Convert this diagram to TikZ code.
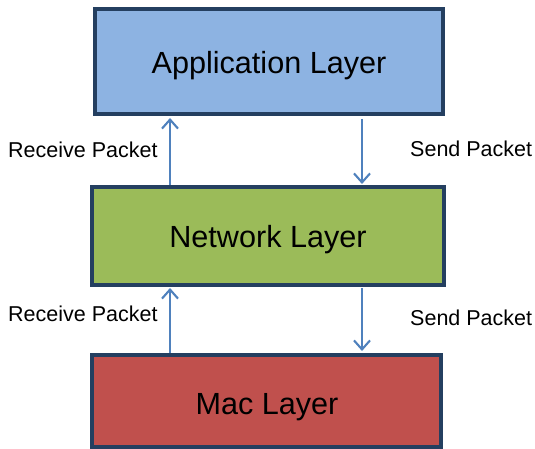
\documentclass[tikz,border=0pt]{standalone}
\usepackage{fontspec}
\setmainfont{Liberation Sans}
\usetikzlibrary{arrows.meta}
\definecolor{navy}{HTML}{243F60}
\definecolor{appblue}{HTML}{8DB3E2}
\definecolor{netgreen}{HTML}{9BBB59}
\definecolor{macred}{HTML}{C0504D}
\definecolor{arrowblue}{HTML}{4F81BD}
\begin{document}
\begin{tikzpicture}[x=1pt,y=-1pt,
  layer/.style={draw=navy,line width=4pt,inner sep=0pt},
  flow/.style={draw=arrowblue,line width=2.1pt,-{Straight Barb[length=9pt,width=16pt,line width=2.1pt]}},
  lbl/.style={font=\fontsize{21.5}{24}\selectfont,inner sep=0pt,anchor=west},
  title/.style={font=\fontsize{30.6}{34}\selectfont,inner sep=0pt}]
\useasboundingbox (0,0) rectangle (535,449);
\path[layer,fill=appblue] (95,9) rectangle (443,114);
\path[layer,fill=netgreen] (92,187) rectangle (444,285);
\path[layer,fill=macred] (92,355) rectangle (441,447);
\node[title] (app) at (269,66) {Application Layer};
\node[title] (net) at (268,240) {Network Layer};
\node[title] (mac) at (267,407) {Mac Layer};
\coordinate (a1s) at (170,185);
\coordinate (a1e) at (170,118);
\coordinate (a2s) at (362,119);
\coordinate (a2e) at (362,184);
\coordinate (a3s) at (170,353);
\coordinate (a3e) at (170,288);
\coordinate (a4s) at (362,288);
\coordinate (a4e) at (362,351);
\draw[flow] (a1s) -- (a1e);
\draw[flow] (a2s) -- (a2e);
\draw[flow] (a3s) -- (a3e);
\draw[flow] (a4s) -- (a4e);
\node[lbl] (r1) at (8,150) {Receive Packet};
\node[lbl] (s1) at (410,149) {Send Packet};
\node[lbl] (r2) at (8,314) {Receive Packet};
\node[lbl] (s2) at (410,318) {Send Packet};
\end{tikzpicture}
\end{document}
